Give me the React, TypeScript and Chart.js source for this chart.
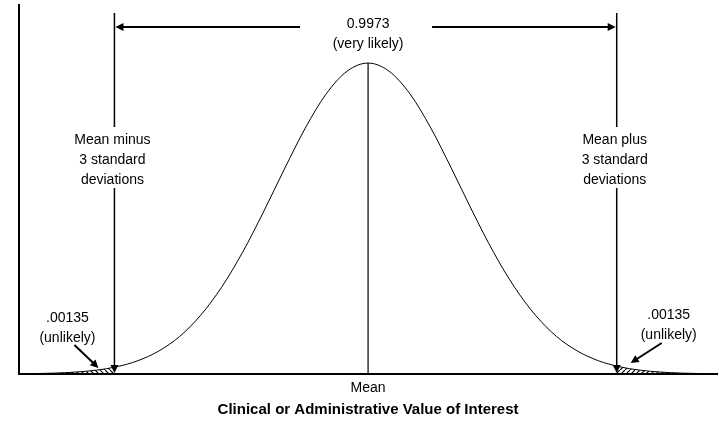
import React, { useEffect, useRef } from "react";
import { Chart, registerables } from "chart.js";

Chart.register(...registerables);

// Bell curve (relative height, peak = 1), x in standard-deviation units
const CURVE_X = [-4, -3.75, -3.5, -3.25, -3, -2.75, -2.5, -2.25, -2, -1.75, -1.5, -1.25, -1, -0.75, -0.5, -0.25, 0,
  0.25, 0.5, 0.75, 1, 1.25, 1.5, 1.75, 2, 2.25, 2.5, 2.75, 3, 3.25, 3.5, 3.75, 4];
const CURVE_Y = [0.0013, 0.0028, 0.0061, 0.0122, 0.0235, 0.0428, 0.0739, 0.121, 0.189, 0.279, 0.391, 0.521, 0.659, 0.791, 0.901, 0.974, 1,
  0.974, 0.901, 0.791, 0.659, 0.521, 0.391, 0.279, 0.189, 0.121, 0.0739, 0.0428, 0.0235, 0.0122, 0.0061, 0.0028, 0.0013];

// Hatched tails
const LEFT_TAIL_X = [-4, -3.75, -3.5, -3.25, -3.03];
const LEFT_TAIL_Y = [0.0013, 0.0028, 0.0061, 0.0122, 0.0218];
const RIGHT_TAIL_X = [2.97, 3.25, 3.5, 3.75, 4];
const RIGHT_TAIL_Y = [0.0253, 0.0122, 0.0061, 0.0028, 0.0013];

// Marker positions
const MEAN_X = 0;
const LOWER_X = -3.03;
const UPPER_X = 2.97;

// Texts
const CENTRAL_LABEL = ["0.9973", "(very likely)"];
const TAIL_LABEL = [".00135", "(unlikely)"];
const LOWER_LABEL = ["Mean minus", "3 standard", "deviations"];
const UPPER_LABEL = ["Mean plus", "3 standard", "deviations"];
const MEAN_LABEL = "Mean";
const X_TITLE = "Clinical or Administrative Value of Interest";

const FONT = '"Liberation Sans", Arial, sans-serif';

function makePattern(backslash: boolean): CanvasPattern | string {
  const c = document.createElement("canvas");
  c.width = 5;
  c.height = 5;
  const g = c.getContext("2d");
  if (!g) return "rgba(0,0,0,0.3)";
  g.strokeStyle = "#000";
  g.lineWidth = 1.2;
  g.beginPath();
  if (backslash) {
    g.moveTo(-1, -1);
    g.lineTo(6, 6);
  } else {
    g.moveTo(-1, 6);
    g.lineTo(6, -1);
  }
  g.stroke();
  const p = g.createPattern(c, "repeat");
  return p || "rgba(0,0,0,0.3)";
}

function arrowHead(ctx: CanvasRenderingContext2D, tx: number, ty: number, fx: number, fy: number, len = 7, half = 3.5) {
  const a = Math.atan2(ty - fy, tx - fx);
  ctx.beginPath();
  ctx.moveTo(tx, ty);
  ctx.lineTo(tx - len * Math.cos(a) + half * Math.sin(a), ty - len * Math.sin(a) - half * Math.cos(a));
  ctx.lineTo(tx - len * Math.cos(a) - half * Math.sin(a), ty - len * Math.sin(a) + half * Math.cos(a));
  ctx.closePath();
  ctx.fill();
}

function line(ctx: CanvasRenderingContext2D, x1: number, y1: number, x2: number, y2: number) {
  ctx.beginPath();
  ctx.moveTo(x1, y1);
  ctx.lineTo(x2, y2);
  ctx.stroke();
}

const annotationPlugin = {
  id: "bellAnnotations",
  afterDraw(chart: any) {
    const ctx: CanvasRenderingContext2D = chart.ctx;
    const xs = chart.scales.x;
    const ys = chart.scales.y;
    const area = chart.chartArea;
    const base = ys.getPixelForValue(0);
    const xm = xs.getPixelForValue(MEAN_X);
    const xl = xs.getPixelForValue(LOWER_X);
    const xu = xs.getPixelForValue(UPPER_X);
    const peak = ys.getPixelForValue(1);

    ctx.save();
    ctx.strokeStyle = "#000";
    ctx.fillStyle = "#000";

    // axes
    ctx.lineWidth = 2;
    line(ctx, area.left, area.top, area.left, base + 1);
    line(ctx, area.left, base, area.right, base);

    // mean line
    ctx.lineWidth = 1.2;
    line(ctx, xm, peak, xm, base);

    // +/- 3 SD lines with gap for text and arrowheads at baseline
    const topY = area.top + 9;
    const gapTop = area.top + 123;
    const gapBottom = area.top + 184;
    ctx.lineWidth = 1.5;
    for (const x of [xl, xu]) {
      line(ctx, x, topY, x, gapTop);
      line(ctx, x, gapBottom, x, base - 6);
      arrowHead(ctx, x, base - 1, x, base - 20, 8, 4);
    }

    // horizontal arrows near the top
    const arrowY = area.top + 23;
    ctx.lineWidth = 2;
    line(ctx, xm - 68, arrowY, xl + 6, arrowY);
    arrowHead(ctx, xl + 1, arrowY, xl + 20, arrowY, 8, 4);
    line(ctx, xm + 64, arrowY, xu - 6, arrowY);
    arrowHead(ctx, xu - 1, arrowY, xu - 20, arrowY, 8, 4);

    // tail arrows
    ctx.lineWidth = 2;
    const lfx = xl - 40, lfy = base - 29, ltx = xl - 16, lty = base - 6;
    line(ctx, lfx, lfy, ltx - 3, lty - 3);
    arrowHead(ctx, ltx, lty, lfx, lfy, 8, 4);
    const rfx = xu + 45, rfy = base - 31, rtx = xu + 14, rty = base - 11;
    line(ctx, rfx, rfy, rtx + 3, rty - 2);
    arrowHead(ctx, rtx, rty, rfx, rfy, 8, 4);

    // texts
    ctx.textAlign = "center";
    ctx.textBaseline = "middle";
    ctx.font = `14px ${FONT}`;
    ctx.fillText(CENTRAL_LABEL[0], xm, area.top + 20);
    ctx.fillText(CENTRAL_LABEL[1], xm, area.top + 40);
    LOWER_LABEL.forEach((t, i) => ctx.fillText(t, xl - 2, area.top + 136 + i * 20));
    UPPER_LABEL.forEach((t, i) => ctx.fillText(t, xu - 2, area.top + 136 + i * 20));
    TAIL_LABEL.forEach((t, i) => ctx.fillText(t, xl - 47, base - 56 + i * 20));
    TAIL_LABEL.forEach((t, i) => ctx.fillText(t, xu + 52, base - 59 + i * 20));
    ctx.fillText(MEAN_LABEL, xm, base + 14);
    ctx.font = `bold 15px ${FONT}`;
    ctx.fillText(X_TITLE, xm, base + 36);
    ctx.restore();
  },
};

export default function App() {
  const ref = useRef<HTMLCanvasElement | null>(null);
  useEffect(() => {
    const canvas = ref.current;
    if (!canvas) return;
    const toPts = (xa: number[], ya: number[]) => xa.map((x, i) => ({ x, y: ya[i] }));
    const chart = new Chart(canvas, {
      type: "line",
      data: {
        datasets: [
          {
            data: toPts(LEFT_TAIL_X, LEFT_TAIL_Y),
            borderWidth: 0,
            borderColor: "rgba(0,0,0,0)",
            backgroundColor: makePattern(true) as any,
            fill: "origin",
            tension: 0.4,
            cubicInterpolationMode: "monotone",
            pointRadius: 0,
          },
          {
            data: toPts(RIGHT_TAIL_X, RIGHT_TAIL_Y),
            borderWidth: 0,
            borderColor: "rgba(0,0,0,0)",
            backgroundColor: makePattern(false) as any,
            fill: "origin",
            tension: 0.4,
            cubicInterpolationMode: "monotone",
            pointRadius: 0,
          },
          {
            data: toPts(CURVE_X, CURVE_Y),
            borderWidth: 1,
            borderColor: "#000",
            fill: false,
            tension: 0.4,
            cubicInterpolationMode: "monotone",
            pointRadius: 0,
          },
        ],
      },
      options: {
        responsive: false,
        animation: false,
        devicePixelRatio: 1,
        layout: { padding: { left: 19, right: 1, top: 4, bottom: 48 } },
        scales: {
          x: { type: "linear", min: -4.17, max: 4.18, display: false },
          y: { type: "linear", min: 0, max: 1.19, display: false },
        },
        plugins: { legend: { display: false }, tooltip: { enabled: false }, title: { display: false } },
      },
      plugins: [annotationPlugin],
    });
    return () => chart.destroy();
  }, []);
  return (
    <div style={{ position: "absolute", left: 0, top: 0, width: 719, height: 422, background: "#fff" }}>
      <canvas ref={ref} width={719} height={422} style={{ display: "block" }} />
    </div>
  );
}
